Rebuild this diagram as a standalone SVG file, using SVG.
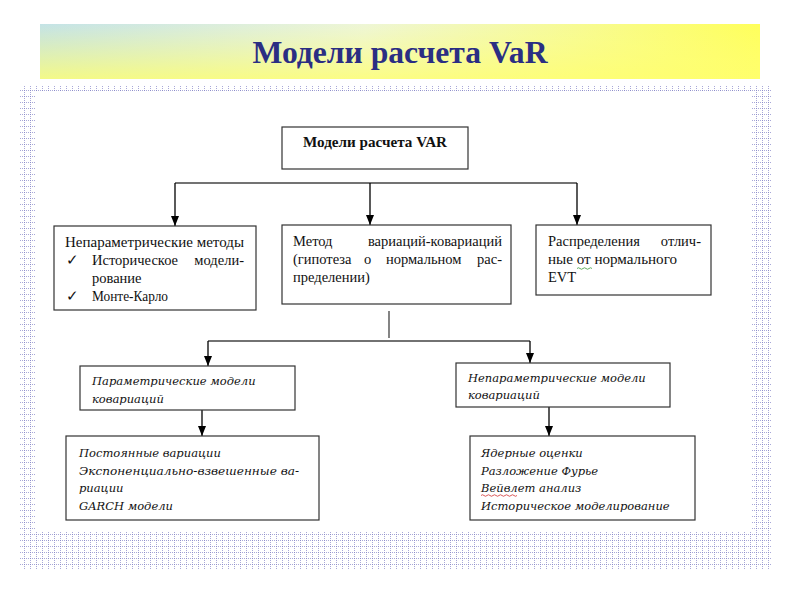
<svg xmlns="http://www.w3.org/2000/svg" width="800" height="600" viewBox="0 0 800 600">
<defs>
<linearGradient id="bannerH" x1="0" y1="0" x2="1" y2="0">
<stop offset="0" stop-color="#c4e3e6"/>
<stop offset="0.45" stop-color="#eef6d6"/>
<stop offset="1" stop-color="#ffff5a"/>
</linearGradient>
<linearGradient id="bannerV" x1="0" y1="0" x2="0" y2="1">
<stop offset="0" stop-color="#ffff80" stop-opacity="0"/>
<stop offset="1" stop-color="#ffff70" stop-opacity="0.8"/>
</linearGradient>
<pattern id="dots" width="6" height="6" patternUnits="userSpaceOnUse">
<rect width="6" height="6" fill="#ffffff"/>
<rect x="0" y="0" width="1" height="1" fill="#8a8ac8"/>
<rect x="2" y="0" width="1" height="1" fill="#a8a8d8"/>
<rect x="4" y="0" width="1" height="1" fill="#a8a8d8"/>
<rect x="0" y="2" width="1" height="1" fill="#a8a8d8"/>
<rect x="0" y="4" width="1" height="1" fill="#a8a8d8"/>
</pattern>
<marker id="arr" markerWidth="10" markerHeight="8" refX="10" refY="4" orient="auto" markerUnits="userSpaceOnUse">
<path d="M0,0 L10,4 L0,8 Z" fill="#000"/>
</marker>
<style>
.box{fill:#fff;stroke:#333;stroke-width:1.2}
.t{font-family:"Liberation Serif","Times New Roman",serif;font-size:14.5px;fill:#111}
.ti{font-family:"DejaVu Serif","Liberation Serif",serif;font-style:italic;font-size:11.5px;fill:#111}
.line{fill:none;stroke:#444;stroke-width:1.3}
.arrow{fill:none;stroke:#000;stroke-width:1.3;marker-end:url(#arr)}
</style>
</defs>
<rect width="800" height="600" fill="#fff"/>
<g id="banner">
<rect x="40" y="24" width="720" height="55" fill="url(#bannerH)"/>
<rect x="40" y="24" width="720" height="55" fill="url(#bannerV)"/>
<text x="400" y="63" text-anchor="middle" font-family="Liberation Serif, serif" font-weight="bold" font-size="32" fill="#2b2e83" textLength="295" lengthAdjust="spacingAndGlyphs">Модели расчета VaR</text>
</g>
<g id="frame">
<path d="M20,85 H772 V570 H20 Z M36,92 V531 H751 V92 Z" fill="url(#dots)" fill-rule="evenodd"/>
</g>
<g id="connectors">
<path class="line" d="M175,183 H577"/>
<path class="arrow" d="M175,183 V226"/>
<path class="arrow" d="M370,183 V225"/>
<path class="arrow" d="M577,183 V225"/>
<path class="line" d="M389,311 V338 M208,341 H530"/>
<path class="arrow" d="M208,341 V366"/>
<path class="arrow" d="M530,341 V363"/>
<path class="arrow" d="M202,410 V436"/>
<path class="arrow" d="M549,407 V436"/>
</g>
<g id="n-top">
<rect class="box" x="282" y="127" width="186" height="42"/>
<text class="t" x="375" y="147" text-anchor="middle" font-weight="bold" font-size="14" textLength="144" lengthAdjust="spacingAndGlyphs">Модели расчета VAR</text>
</g>
<g id="n-nonparam-methods">
<rect class="box" x="54" y="226" width="202" height="84"/>
<text class="t" x="65" y="247" textLength="179" lengthAdjust="spacingAndGlyphs">Непараметрические методы</text>
<text class="t" x="66" y="265">✓</text>
<text class="t" x="92" y="265">Историческое</text>
<text class="t" x="244" y="265" text-anchor="end">модели-</text>
<text class="t" x="92" y="283">рование</text>
<text class="t" x="66" y="301">✓</text>
<text class="t" x="92" y="301" textLength="76" lengthAdjust="spacingAndGlyphs">Монте-Карло</text>
</g>
<g id="n-varcov">
<rect class="box" x="282" y="225" width="229" height="79"/>
<text class="t" x="293" y="246">Метод</text>
<text class="t" x="502" y="246" text-anchor="end">вариаций-ковариаций</text>
<text class="t" x="293" y="264">(гипотеза</text>
<text class="t" x="364" y="264">о</text>
<text class="t" x="386" y="264">нормальном</text>
<text class="t" x="502" y="264" text-anchor="end">рас-</text>
<text class="t" x="293" y="282">пределении)</text>
</g>
<g id="n-nonnormal">
<rect class="box" x="536" y="225" width="175" height="70"/>
<text class="t" x="548" y="246">Распределения</text>
<text class="t" x="701" y="246" text-anchor="end">отлич-</text>
<text class="t" x="548" y="264" textLength="129" lengthAdjust="spacingAndGlyphs">ные от нормального</text>
<path d="M577,268.5 q1.5,-1.5 3,0 t3,0 t3,0 t3,0 t3,0" fill="none" stroke="#3a9a3a" stroke-width="0.8"/>
<text class="t" x="548" y="282">EVT</text>
</g>
<g id="n-param-cov">
<rect class="box" x="80" y="366" width="215" height="44"/>
<text class="ti" x="92" y="385">Параметрические модели</text>
<text class="ti" x="92" y="403">ковариаций</text>
</g>
<g id="n-nonparam-cov">
<rect class="box" x="456" y="363" width="214" height="44"/>
<text class="ti" x="468" y="382">Непараметрические модели</text>
<text class="ti" x="468" y="399">ковариаций</text>
</g>
<g id="n-param-list">
<rect class="box" x="66" y="436" width="253" height="84"/>
<text class="ti" x="79" y="457">Постоянные вариации</text>
<text class="ti" x="79" y="475" textLength="220" lengthAdjust="spacingAndGlyphs">Экспоненциально-взвешенные ва-</text>
<text class="ti" x="79" y="492">риации</text>
<text class="ti" x="79" y="510">GARCH модели</text>
</g>
<g id="n-nonparam-list">
<rect class="box" x="470" y="436" width="225" height="84"/>
<text class="ti" x="481" y="457">Ядерные оценки</text>
<text class="ti" x="481" y="475">Разложение Фурье</text>
<text class="ti" x="481" y="492">Вейвлет анализ</text>
<path d="M481,495.5 q1.5,-1.5 3,0 t3,0 t3,0 t3,0 t3,0 t3,0 t3,0 t3,0 t3,0 t3,0 t3,0 t3,0" fill="none" stroke="#d03030" stroke-width="0.8"/>
<text class="ti" x="481" y="510">Историческое моделирование</text>
</g>
</svg>
